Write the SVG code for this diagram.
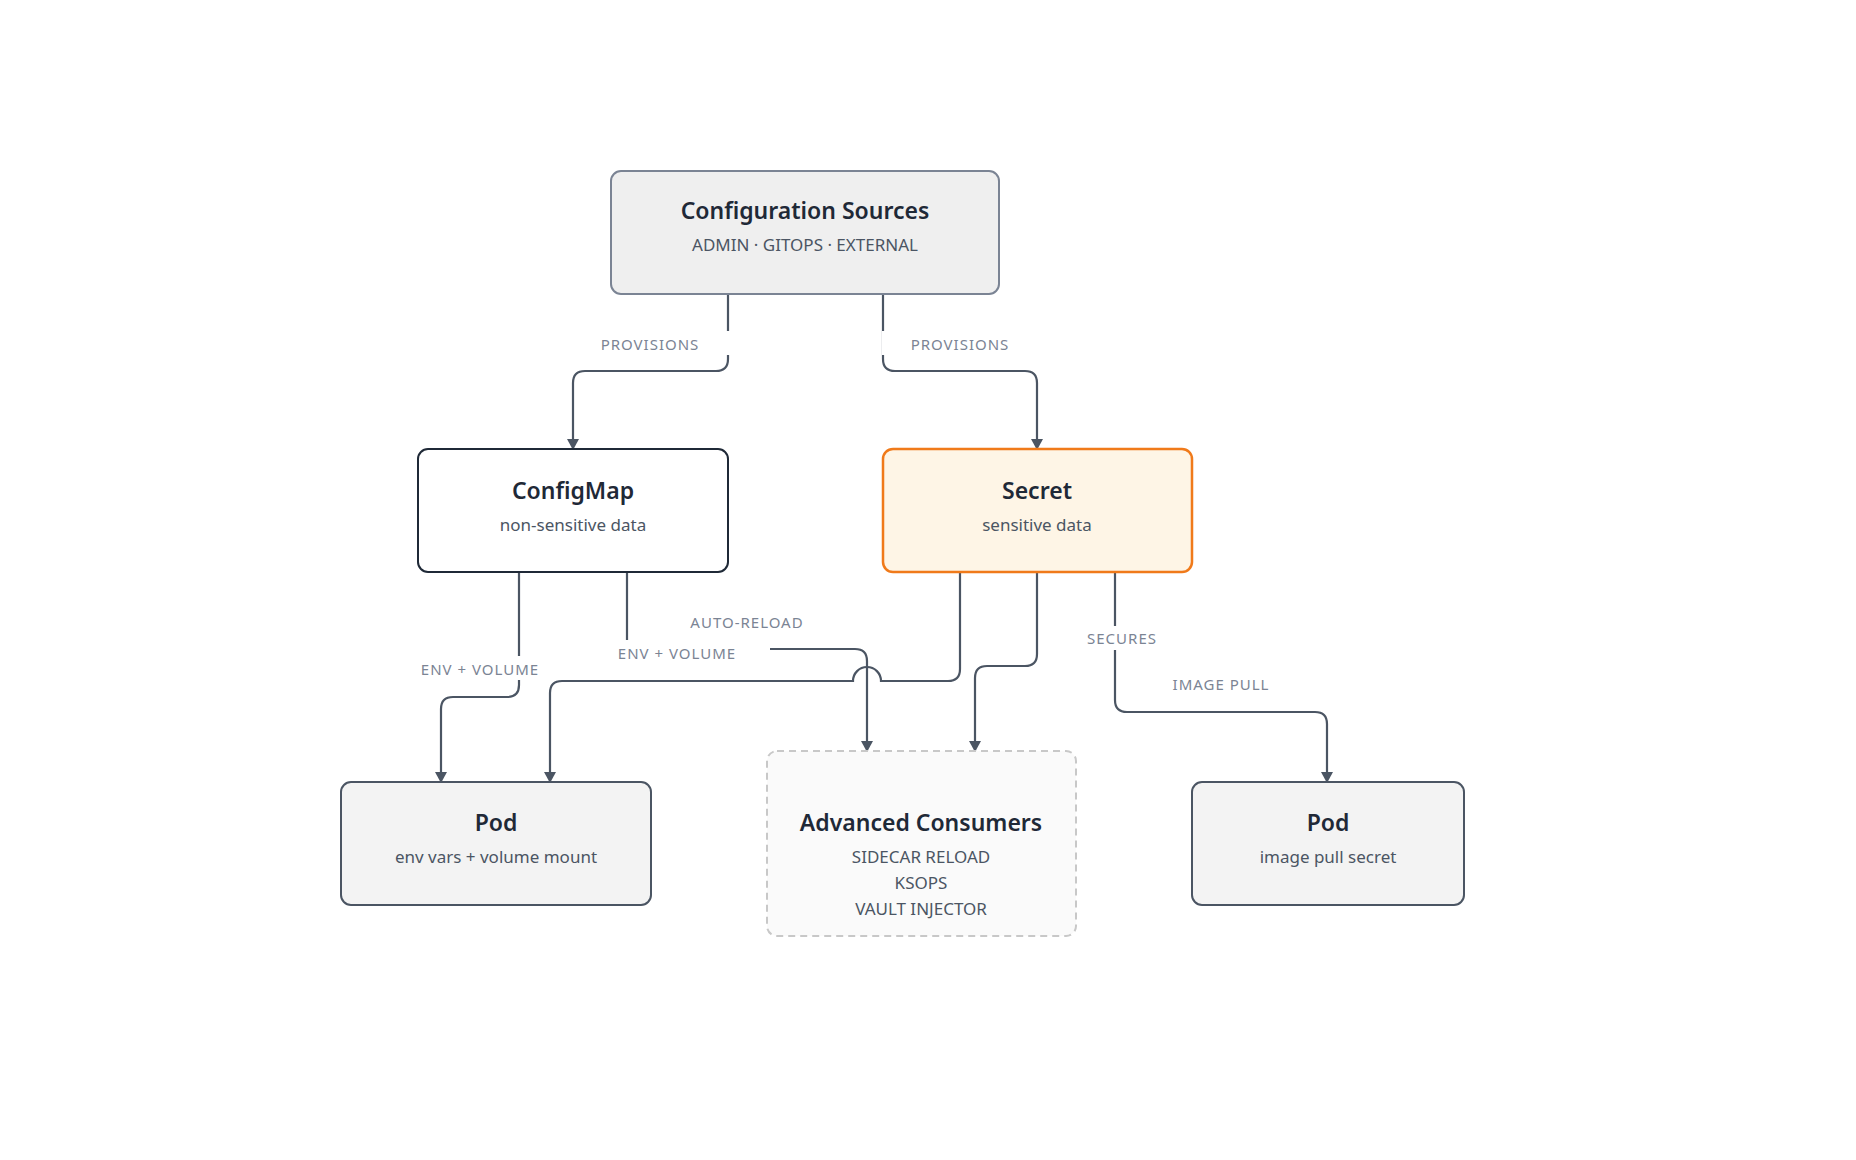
<svg xmlns="http://www.w3.org/2000/svg" width="1856" height="1160" viewBox="0 0 1856 1160">
<defs>
<marker id="ah" markerWidth="12" markerHeight="12" refX="10" refY="6" orient="auto" markerUnits="userSpaceOnUse"><path d="M0,0 L11,6 L0,12 z" fill="#4b5563"/></marker>
<style>
.t{font-family:"Noto Sans",sans-serif;font-size:23px;font-weight:600;fill:#1f2937;text-anchor:middle}
.s{font-family:"Noto Sans",sans-serif;font-size:17px;fill:#4b5563;text-anchor:middle}
.l{font-family:"Noto Sans",sans-serif;font-size:15px;fill:#7b8494;text-anchor:middle;letter-spacing:1px}
.c{fill:none;stroke:#4b5563;stroke-width:2.2;marker-end:url(#ah)}
.bg{fill:#fff}
</style>
</defs>
<rect width="1856" height="1160" fill="#fff"/>
<g id="connectors">
<path class="c" d="M728,294 V359 Q728,371 716,371 H585 Q573,371 573,383 V449"/>
<path class="c" d="M883,294 V359 Q883,371 895,371 H1025 Q1037,371 1037,383 V449"/>
<path class="c" d="M519,572 V685 Q519,697 507,697 H453 Q441,697 441,709 V782"/>
<path class="c" d="M627,572 V649 H855 Q867,649 867,661 V751"/>
<path class="c" d="M960,572 V669 Q960,681 948,681 H881 A14,14 0 0 0 853,681 H562 Q550,681 550,693 V782"/>
<path class="c" d="M1037,572 V654 Q1037,666 1025,666 H987 Q975,666 975,678 V751"/>
<path class="c" d="M1115,572 V700 Q1115,712 1127,712 H1315 Q1327,712 1327,724 V782"/>
<rect class="bg" x="590" y="331" width="140" height="24"/>
<text class="l" x="650" y="350">PROVISIONS</text>
<rect class="bg" x="882" y="331" width="140" height="24"/>
<text class="l" x="960" y="350">PROVISIONS</text>
<rect class="bg" x="415" y="656" width="130" height="24"/>
<text class="l" x="480" y="675">ENV + VOLUME</text>
<rect class="bg" x="612" y="640" width="158" height="24"/>
<text class="l" x="677" y="659">ENV + VOLUME</text>
<text class="l" x="747" y="628">AUTO-RELOAD</text>
<rect class="bg" x="1080" y="626" width="84" height="24"/>
<text class="l" x="1122" y="644">SECURES</text>
<text class="l" x="1221" y="690">IMAGE PULL</text>
</g>
<g id="sources"><rect x="611" y="171" width="388" height="123" rx="10" fill="#efefef" stroke="#7b8494" stroke-width="2"/>
<text class="t" x="805" y="219">Configuration Sources</text><text class="s" x="805" y="251">ADMIN · GITOPS · EXTERNAL</text></g>
<g id="configmap"><rect x="418" y="449" width="310" height="123" rx="10" fill="#fff" stroke="#1f2937" stroke-width="2"/>
<text class="t" x="573" y="499">ConfigMap</text><text class="s" x="573" y="531">non-sensitive data</text></g>
<g id="secret"><rect x="883" y="449" width="309" height="123" rx="10" fill="#fef5e6" stroke="#f07a1a" stroke-width="2.5"/>
<text class="t" x="1037" y="499">Secret</text><text class="s" x="1037" y="531">sensitive data</text></g>
<g id="pod1"><rect x="341" y="782" width="310" height="123" rx="10" fill="#f3f3f3" stroke="#4b5563" stroke-width="2"/>
<text class="t" x="496" y="831">Pod</text><text class="s" x="496" y="863">env vars + volume mount</text></g>
<g id="advanced"><rect x="767" y="751" width="309" height="185" rx="10" fill="#fafafa" stroke="#c8c8c8" stroke-width="2" stroke-dasharray="7,5"/>
<text class="t" x="921" y="831">Advanced Consumers</text><text class="s" x="921" y="863">SIDECAR RELOAD</text><text class="s" x="921" y="889">KSOPS</text><text class="s" x="921" y="915">VAULT INJECTOR</text></g>
<g id="pod2"><rect x="1192" y="782" width="272" height="123" rx="10" fill="#f3f3f3" stroke="#4b5563" stroke-width="2"/>
<text class="t" x="1328" y="831">Pod</text><text class="s" x="1328" y="863">image pull secret</text></g>
</svg>
